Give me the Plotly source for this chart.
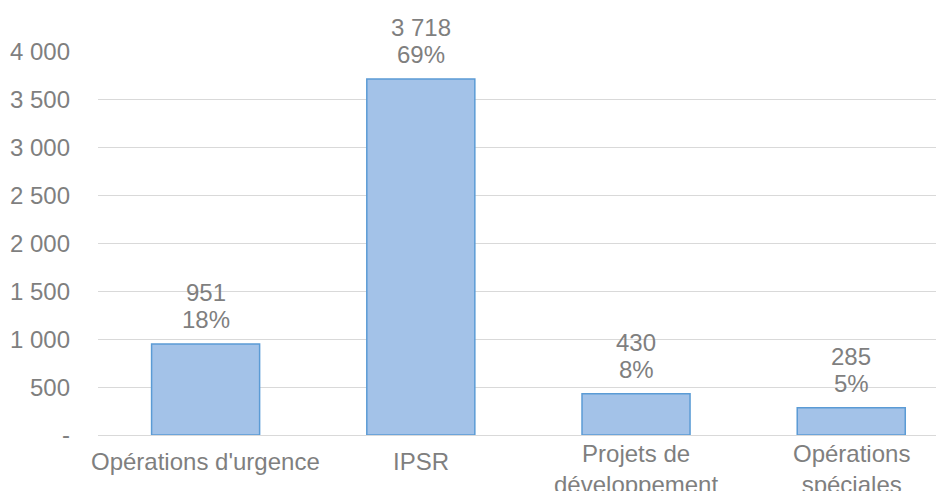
import plotly.graph_objects as go

categories = ["Opérations d'urgence", "IPSR", "Projets de<br>développement", "Opérations<br>spéciales"]
values = [951, 3718, 430, 285]
percents = ["18%", "69%", "8%", "5%"]
tick_vals = [0, 500, 1000, 1500, 2000, 2500, 3000, 3500, 4000]
tick_text = ["-", "500", "1 000", "1 500", "2 000", "2 500", "3 000", "3 500", "4 000"]

def fmt(v):
    return f"{v:,}".replace(",", " ")

FONT = "Liberation Sans, Arial, sans-serif"
GRAY = "#7f7f7f"

fig = go.Figure()
fig.add_trace(go.Bar(
    x=categories, y=values, width=0.502,
    marker=dict(color="#a3c2e8", line=dict(color="#5b9bd5", width=1.5)),
    hoverinfo="skip",
))

for c, v, p in zip(categories, values, percents):
    fig.add_annotation(x=c, y=v, text=p, showarrow=False,
                       yanchor="bottom", yshift=9,
                       font=dict(family=FONT, size=24, color=GRAY))
    fig.add_annotation(x=c, y=v, text=fmt(v), showarrow=False,
                       yanchor="bottom", yshift=36,
                       font=dict(family=FONT, size=24, color=GRAY))
    # category label below the axis (multi-line labels sit a little higher, as in the reference)
    multiline = "<br>" in c
    fig.add_annotation(x=c, y=0, text=c, showarrow=False,
                       yanchor="top", yshift=-3 if multiline else -11,
                       font=dict(family=FONT, size=24, color=GRAY))

fig.update_layout(
    width=944, height=491,
    margin=dict(l=90, r=8, t=44, b=64),
    paper_bgcolor="white", plot_bgcolor="white",
    showlegend=False,
    font=dict(family=FONT, size=24, color=GRAY),
    xaxis=dict(showgrid=False, showline=False, ticks="", automargin=False,
               range=[-0.5, 3.431], showticklabels=False),
    yaxis=dict(range=[0, 4000], tickvals=tick_vals, ticktext=tick_text,
               showgrid=True, gridcolor="#d9d9d9", gridwidth=1.3,
               zeroline=True, zerolinecolor="#d9d9d9", zerolinewidth=1.3,
               showline=False, ticks="", ticklabelstandoff=27, automargin=False,
               tickfont=dict(family=FONT, size=24, color=GRAY)),
)

fig.write_html("out.html")
